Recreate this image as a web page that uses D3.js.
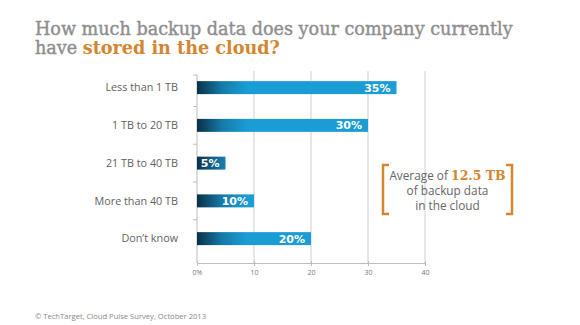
<!DOCTYPE html>
<html><head><meta charset="utf-8">
<script src="https://cdn.jsdelivr.net/npm/d3@7"></script>
<style>body{margin:0;background:#fff}svg{display:block}</style>
</head><body>
<script>
const categories = ["Less than 1 TB","1 TB to 20 TB","21 TB to 40 TB","More than 40 TB","Don\u2019t know"];
const values = [35, 30, 5, 10, 20];
const xTicks = [0, 10, 20, 30, 40];
const xTickLabels = ["0%", "10", "20", "30", "40"];
const titleLine1 = "How much backup data does your company currently";
const titleLine2a = "have ";
const titleLine2b = "stored in the cloud?";
const note = ["Average of ", "12.5 TB", "of backup data", "in the cloud"];
const source = "\u00a9 TechTarget, Cloud Pulse Survey, October 2013";

const W = 580, H = 325;
const svg = d3.select("body").append("svg").attr("width", W).attr("height", H);
svg.append("rect").attr("width", W).attr("height", H).attr("fill", "#fff");

const gray = "#8e8e8e", orange = "#d4862f";
const titleFont = "'DejaVu Serif', serif";

// Title
const t1 = svg.append("text").attr("x", 35).attr("y", 35)
  .attr("font-family", titleFont).attr("font-size", 17).attr("fill", gray)
  .attr("stroke", gray).attr("stroke-width", 0.4).text(titleLine1);
let len = t1.node().getComputedTextLength();
const fs = 17 * 478 / len;
t1.attr("font-size", fs);
const t2 = svg.append("text").attr("x", 35).attr("y", 54)
  .attr("font-family", titleFont).attr("font-size", fs).attr("fill", gray);
t2.append("tspan").attr("stroke", gray).attr("stroke-width", 0.4).text(titleLine2a);
t2.append("tspan").attr("fill", orange).attr("font-weight", "bold").text(titleLine2b);

// Scales
const x = d3.scaleLinear().domain([0, 40]).range([197, 425]);
const y = d3.scaleBand().domain(categories).range([68.75, 257.5])
  .paddingInner(0.656).paddingOuter(0.328);

// gradient
const defs = svg.append("defs");
const grad = defs.append("linearGradient").attr("id", "barGrad")
  .attr("gradientUnits", "userSpaceOnUse")
  .attr("x1", x(0)).attr("x2", x(0) + 50).attr("y1", 0).attr("y2", 0);
grad.append("stop").attr("offset", 0).attr("stop-color", "#0b2f47");
grad.append("stop").attr("offset", 0.5).attr("stop-color", "#157ba9");
grad.append("stop").attr("offset", 1).attr("stop-color", "#1a9cd4");

// gridlines
const axisTop = 75, axisBottom = 263;
svg.append("g").selectAll("line").data(xTicks.filter(d => d > 0)).join("line")
  .attr("x1", d => x(d)).attr("x2", d => x(d))
  .attr("y1", 71).attr("y2", axisBottom)
  .attr("stroke", "#cfcfcf").attr("stroke-width", 1);

// x axis
const xAxis = d3.axisBottom(x).tickValues(xTicks).tickFormat((d, i) => xTickLabels[i]).tickSize(3).tickSizeOuter(0);
const gx = svg.append("g").attr("transform", `translate(0,${axisBottom})`).call(xAxis);
gx.select(".domain").attr("stroke", "#bdbdbd");
gx.selectAll(".tick line").attr("stroke", "#bdbdbd").attr("y1", -2);
gx.selectAll(".tick text").attr("font-family", "'Open Sans', sans-serif")
  .attr("font-size", 7).attr("fill", "#777").attr("dy", "0.9em");

// y axis line and ticks
svg.append("line").attr("x1", x(0)).attr("x2", x(0)).attr("y1", axisTop).attr("y2", axisBottom)
  .attr("stroke", "#bdbdbd");
const step = y.step();
const bounds = [axisTop].concat(categories.slice(0, -1).map(c => y(c) + y.bandwidth() + (step - y.bandwidth()) / 2));
svg.append("g").selectAll("line").data(bounds).join("line")
  .attr("x1", x(0) - 4).attr("x2", x(0)).attr("y1", d => d).attr("y2", d => d)
  .attr("stroke", "#bdbdbd");

// category labels
svg.append("g").selectAll("text").data(categories).join("text")
  .attr("x", 178).attr("y", d => y(d) + y.bandwidth() / 2)
  .attr("dy", "0.35em").attr("text-anchor", "end")
  .attr("font-family", "'Open Sans', sans-serif").attr("font-size", 10.8)
  .attr("fill", "#5f5f5f").text(d => d);

// bars
svg.append("g").selectAll("rect").data(values).join("rect")
  .attr("x", x(0)).attr("y", (d, i) => y(categories[i]))
  .attr("width", d => x(d) - x(0)).attr("height", y.bandwidth())
  .attr("fill", "url(#barGrad)");

// value labels
svg.append("g").selectAll("text").data(values).join("text")
  .attr("x", d => x(d) - 6).attr("y", (d, i) => y(categories[i]) + y.bandwidth() / 2)
  .attr("dy", "0.36em").attr("text-anchor", "end")
  .attr("font-family", "'DejaVu Sans', sans-serif").attr("font-weight", "bold")
  .attr("font-size", 11).attr("fill", "#fff").text(d => d + "%");

// annotation bracket
const bx1 = 383, bx2 = 512, by1 = 165, by2 = 214, tab = 6;
const br = svg.append("g").attr("fill", "none").attr("stroke", orange).attr("stroke-width", 2.5);
br.append("path").attr("d", `M${bx1 + tab},${by1} H${bx1} V${by2} H${bx1 + tab}`);
br.append("path").attr("d", `M${bx2 - tab},${by1} H${bx2} V${by2} H${bx2 - tab}`);
const cx = (bx1 + bx2) / 2;
const noteFs = 11.8;
const n1 = svg.append("text").attr("x", cx).attr("y", 180).attr("text-anchor", "middle")
  .attr("font-family", "'Open Sans', sans-serif").attr("font-size", noteFs).attr("fill", "#666");
n1.append("tspan").text(note[0]);
n1.append("tspan").attr("font-family", titleFont).attr("font-weight", "bold")
  .attr("fill", orange).attr("font-size", 12.5).text(note[1]);
svg.append("text").attr("x", cx).attr("y", 195).attr("text-anchor", "middle")
  .attr("font-family", "'Open Sans', sans-serif").attr("font-size", noteFs).attr("fill", "#666").text(note[2]);
svg.append("text").attr("x", cx).attr("y", 209.5).attr("text-anchor", "middle")
  .attr("font-family", "'Open Sans', sans-serif").attr("font-size", noteFs).attr("fill", "#666").text(note[3]);

// source
svg.append("text").attr("x", 35).attr("y", 319)
  .attr("font-family", "'Open Sans', sans-serif").attr("font-size", 7.6).attr("fill", "#888").text(source);
</script>
</body></html>
